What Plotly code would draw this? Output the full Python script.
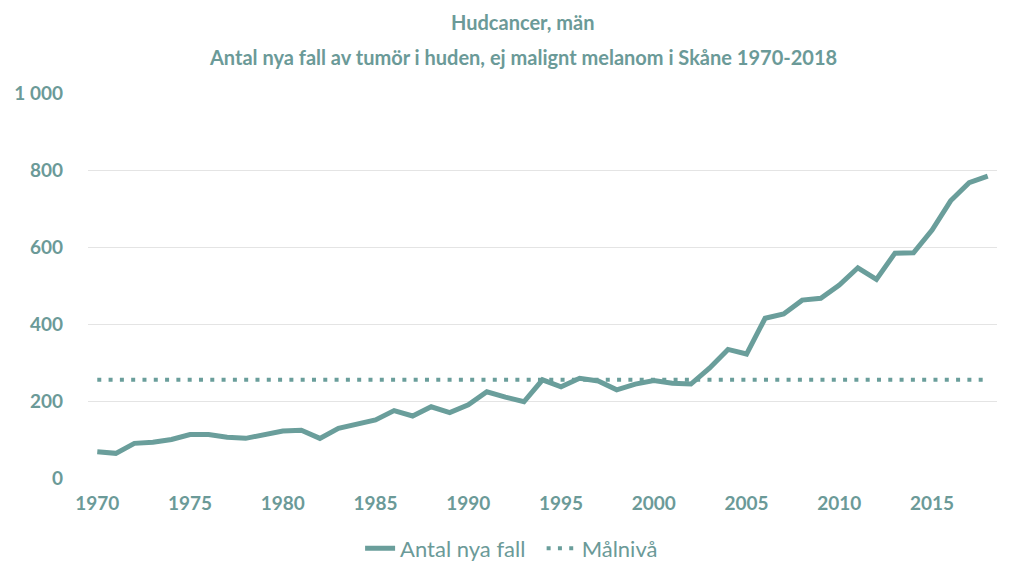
import plotly.graph_objects as go

# data
years = list(range(1970, 2019))
antal_nya_fall = [
    68, 64, 90, 93, 100, 113, 113, 106, 103, 112,
    122, 124, 103, 129, 140, 151, 175, 161, 185, 170,
    190, 224, 210, 198, 255, 237, 259, 252, 229, 244,
    253, 246, 244, 285, 334, 322, 415, 426, 462, 467,
    501, 546, 516, 584, 585, 644, 720, 767, 784,
]
malniva = [255] * len(years)

y_ticks = [0, 200, 400, 600, 800, 1000]
y_labels = ['0', '200', '400', '600', '800', '1 000']
x_ticks = list(range(1970, 2016, 5))

teal = '#6a9e9b'
text_teal = '#6b9a98'
font_family = 'Lato, "Open Sans", sans-serif'

fig = go.Figure()

fig.add_trace(go.Scatter(
    x=years, y=antal_nya_fall, mode='lines', name='Antal nya fall\u00a0\u00a0',
    line=dict(color=teal, width=5),
))
fig.add_trace(go.Scatter(
    x=years, y=malniva, mode='lines', name='Målnivå',
    line=dict(color=teal, width=4, dash='4px,7.3px'),
))

# page has an 8px body margin, so the figure is a bit smaller than the window
fig.update_layout(
    width=1016, height=568,
    margin=dict(l=80, r=27, t=85, b=98, autoexpand=False),
    paper_bgcolor='white', plot_bgcolor='white',
    font=dict(family=font_family, color=text_teal),
    showlegend=True,
    legend=dict(
        orientation='h', x=0.466, xanchor='center', y=-0.183, yanchor='middle',
        font=dict(size=22, color=text_teal), itemwidth=30,
    ),
)

# title lines as separate annotations to get the wider line spacing
fig.layout.annotations = [
    dict(text='<b>Hudcancer, män</b>', xref='paper', yref='paper',
         x=(522 - 88) / 909, y=1 + (93 - 22) / 385, xanchor='center', yanchor='middle',
         showarrow=False, font=dict(size=20, color=text_teal)),
    dict(text='<b>Antal nya fall av tumör i huden, ej malignt melanom i Skåne 1970-2018</b>',
         xref='paper', yref='paper',
         x=(523 - 88) / 909, y=1 + (93 - 57) / 385, xanchor='center', yanchor='middle',
         showarrow=False, font=dict(size=20, color=text_teal)),
]

fig.update_xaxes(
    range=[1969.5, 2018.5], tickvals=x_ticks,
    showgrid=False, zeroline=False, showline=False,
    ticks='', ticklabelstandoff=12, automargin=False,
    tickfont=dict(size=19, color=text_teal, family=font_family, weight='bold'),
)
fig.update_yaxes(
    range=[0, 1000], tickvals=y_ticks, ticktext=y_labels,
    showgrid=True, gridcolor='#e4e4e4', gridwidth=1, automargin=False,
    zeroline=False, showline=False, ticks='', ticklabelstandoff=24,
    tickfont=dict(size=19, color=text_teal, family=font_family, weight='bold'),
)

fig.write_html('out.html')
